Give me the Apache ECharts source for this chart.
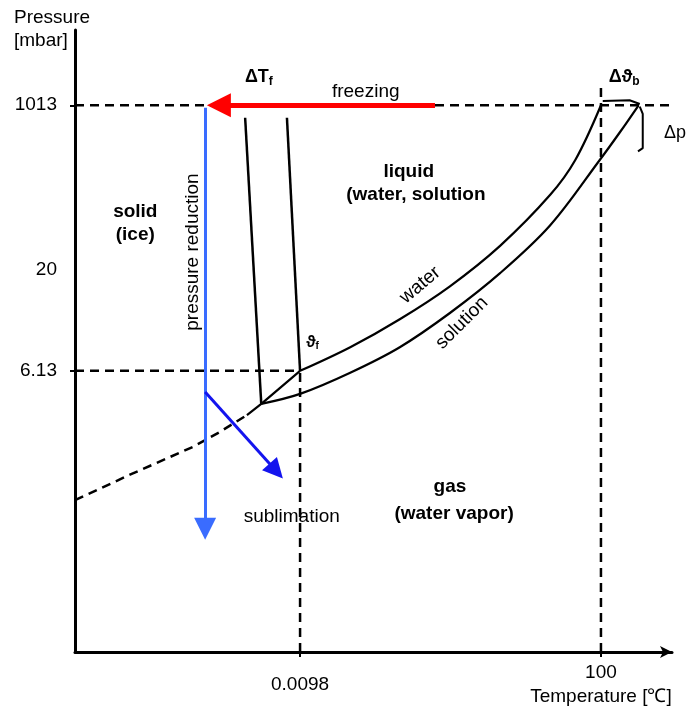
<!DOCTYPE html>
<html>
<head>
<meta charset="utf-8">
<script src="https://cdn.jsdelivr.net/npm/echarts@6/dist/echarts.min.js"></script>
<style>html,body{margin:0;padding:0;background:#fff;}#c{width:692px;height:709px;}</style>
</head>
<body>
<div id="c"></div>
<script>
// Schematic phase diagram (arbitrary diagram units: x 0..100, y 0..100)
const xTickValues = [37.7, 88.1];
const xTickLabels = ['0.0098', '100'];
const yTickValues = [45.2, 61.4, 87.9];
const yTickLabels = ['6.13', '20', '1013'];

const waterCurve = [[37.7,45.2],[46.1,49.0],[54.4,53.5],[62.8,58.8],[71.2,65.3],[79.6,73.5],[83.8,79.1],[88.1,87.9]];
const solutionCurve = [[31.2,39.9],[37.7,41.5],[46.1,44.9],[54.4,49.0],[62.8,54.5],[71.2,60.9],[79.6,68.6],[87.9,79.1],[91.3,83.6],[94.4,87.9]];
const iceSublimationDashed = [[0,24.4],[9.2,28.5],[19.8,33.0],[24.3,35.4],[28.8,38.1]];
const iceSublimationSolid = [[28.8,38.1],[31.2,39.9],[37.7,45.2]];
const waterMelting = [[35.5,85.9],[37.7,45.2]];
const solutionMelting = [[28.5,85.9],[31.2,39.9]];
const guide1013 = [[0,87.9],[100.8,87.9]];
const guide613 = [[0,45.2],[37.7,45.2]];
const guideTriple = [[37.7,0],[37.7,45.2]];
const guide100 = [[88.1,0],[88.1,90.7]];
const bracketBoil = [[88.4,88.6],[92.9,88.7],[94.6,88.1]];
const bracketPressure = [[94.6,87.7],[95.1,86.5],[95.1,81.0],[94.3,80.5]];
const arrowFreezing = [[60.3,87.9],[24.1,87.9]];
const arrowPressure = [[21.8,87.5],[21.8,19.8]];
const arrowSublimation = [[21.8,41.8],[33.7,29.1]];

// annotation texts and their anchor points in diagram units
const annoTexts = ['freezing','sublimation','liquid','(water, solution','solid','(ice)','gas','(water vapor)','water','solution','pressure reduction','Δp'];
const annoPos = [[48.7,90.0],[36.3,21.7],[55.9,77.2],[57.1,73.5],[10.1,70.7],[10.1,67.0],[62.8,26.5],[63.5,22.3],[57.8,59.0],[64.8,52.9],[19.8,64.3],[100.5,83.4]];
const symbolTexts = [['ΔT','f'],['Δϑ','b'],['ϑ','f']];
const symbolPos = [[30.8,92.4],[92.0,92.4],[39.8,49.8]];

const FONT = "'Liberation Sans', Arial, Helvetica, sans-serif";
const chart = echarts.init(document.getElementById('c'));

function lineSeries(data, opts) {
  return Object.assign({
    type: 'line', data: data, symbol: 'none', clip: false, silent: true, z: 2,
    lineStyle: { color: '#000', width: 2.2 }
  }, opts || {});
}
const dash = { color: '#000', width: 2.5, type: [9, 6] };

function arrow(coords, color, width, size) {
  return {
    type: 'lines', coordinateSystem: 'cartesian2d', silent: true, z: 6,
    symbol: ['none', 'triangle'], symbolSize: size,
    lineStyle: { color: color, width: width, opacity: 1, curveness: 0 },
    data: [{ coords: coords }]
  };
}

const option = {
  animation: false,
  backgroundColor: '#fff',
  grid: { left: 75, right: 20, top: 30, bottom: 57, outerBoundsMode: 'none' },
  xAxis: {
    type: 'value', min: 0, max: 100, splitLine: { show: false },
    axisLine: { show: true, lineStyle: { color: '#000', width: 3 }, symbol: ['none', 'arrow'], symbolSize: [9, 12] },
    axisTick: { show: true, customValues: xTickValues, length: 5, lineStyle: { color: '#000', width: 2 } },
    axisLabel: {
      customValues: xTickValues, margin: 9, color: '#000', fontFamily: FONT, fontSize: 19,
      formatter: function (v) {
        const i = xTickValues.indexOf(v);
        if (i === 0) return '{lo|' + xTickLabels[0] + '}';
        return '{hi|' + xTickLabels[1] + '}\n{hi|Temperature [℃]}';
      },
      rich: {
        lo: { lineHeight: 48, fontSize: 19, fontFamily: FONT, color: '#000' },
        hi: { lineHeight: 24, fontSize: 19, fontFamily: FONT, color: '#000' }
      }
    }
  },
  yAxis: {
    type: 'value', min: 0, max: 100, splitLine: { show: false },
    axisLine: { show: true, lineStyle: { color: '#000', width: 3 } },
    axisTick: { show: true, customValues: [yTickValues[0], yTickValues[2]], length: 5, inside: false, lineStyle: { color: '#000', width: 2 } },
    axisLabel: {
      customValues: yTickValues, margin: 18, color: '#000', fontFamily: FONT, fontSize: 19,
      formatter: function (v) { return yTickLabels[yTickValues.indexOf(v)]; }
    }
  },
  series: [
    lineSeries(iceSublimationDashed, { lineStyle: dash }),
    lineSeries(iceSublimationSolid),
    lineSeries(waterCurve, { smooth: 0.35 }),
    lineSeries(solutionCurve, { smooth: 0.35 }),
    lineSeries(waterMelting, { lineStyle: { color: '#000', width: 2.5 } }),
    lineSeries(solutionMelting, { lineStyle: { color: '#000', width: 2.5 } }),
    lineSeries(guide1013, { lineStyle: dash }),
    lineSeries(guide613, { lineStyle: dash }),
    lineSeries(guideTriple, { lineStyle: dash }),
    lineSeries(guide100, { lineStyle: dash }),
    lineSeries(bracketBoil, { lineStyle: { color: '#000', width: 2 } }),
    lineSeries(bracketPressure, { lineStyle: { color: '#000', width: 2 } }),
    arrow(arrowFreezing, '#ff0000', 5, 24),
    arrow(arrowPressure, '#3a6cff', 3, 22),
    arrow(arrowSublimation, '#1414ee', 3, 20)
  ]
};
chart.setOption(option);

// text styles per annotation (by index)
const boldSet = { 2: 1, 3: 1, 4: 1, 5: 1, 6: 1, 7: 1 };
const rotSet = { 8: 40, 9: 45, 10: 90 };
const graphics = [
  { type: 'text', left: 14, top: 6, silent: true, z: 100,
    style: { text: 'Pressure\n[mbar]', fill: '#000', font: '19px ' + FONT, lineHeight: 23 } }
];
annoTexts.forEach(function (t, i) {
  const p = chart.convertToPixel({ gridIndex: 0 }, annoPos[i]);
  const size = i === 11 ? 18 : 19;
  graphics.push({
    type: 'text', x: p[0], y: p[1], rotation: (rotSet[i] || 0) * Math.PI / 180, silent: true, z: 100,
    style: { text: t, fill: '#000', align: 'center', verticalAlign: 'middle',
      font: (boldSet[i] ? 'bold ' : '') + size + 'px ' + FONT }
  });
});
symbolTexts.forEach(function (t, i) {
  const p = chart.convertToPixel({ gridIndex: 0 }, symbolPos[i]);
  const size = i < 2 ? 18 : 16;
  graphics.push({
    type: 'text', x: p[0], y: p[1], silent: true, z: 100,
    style: {
      text: '{m|' + t[0] + '}{s|' + t[1] + '}', align: 'center', verticalAlign: 'middle',
      rich: {
        m: { fontSize: size, fontWeight: 'bold', fontFamily: FONT, fill: '#000', lineHeight: size + 3 },
        s: { fontSize: Math.round(size * 0.65), fontWeight: 'bold', fontFamily: FONT, fill: '#000',
             lineHeight: size + 3, verticalAlign: 'bottom', padding: [Math.round(size * 0.45), 0, 0, 0] }
      }
    }
  });
});
chart.setOption({ graphic: graphics });
</script>
</body>
</html>
